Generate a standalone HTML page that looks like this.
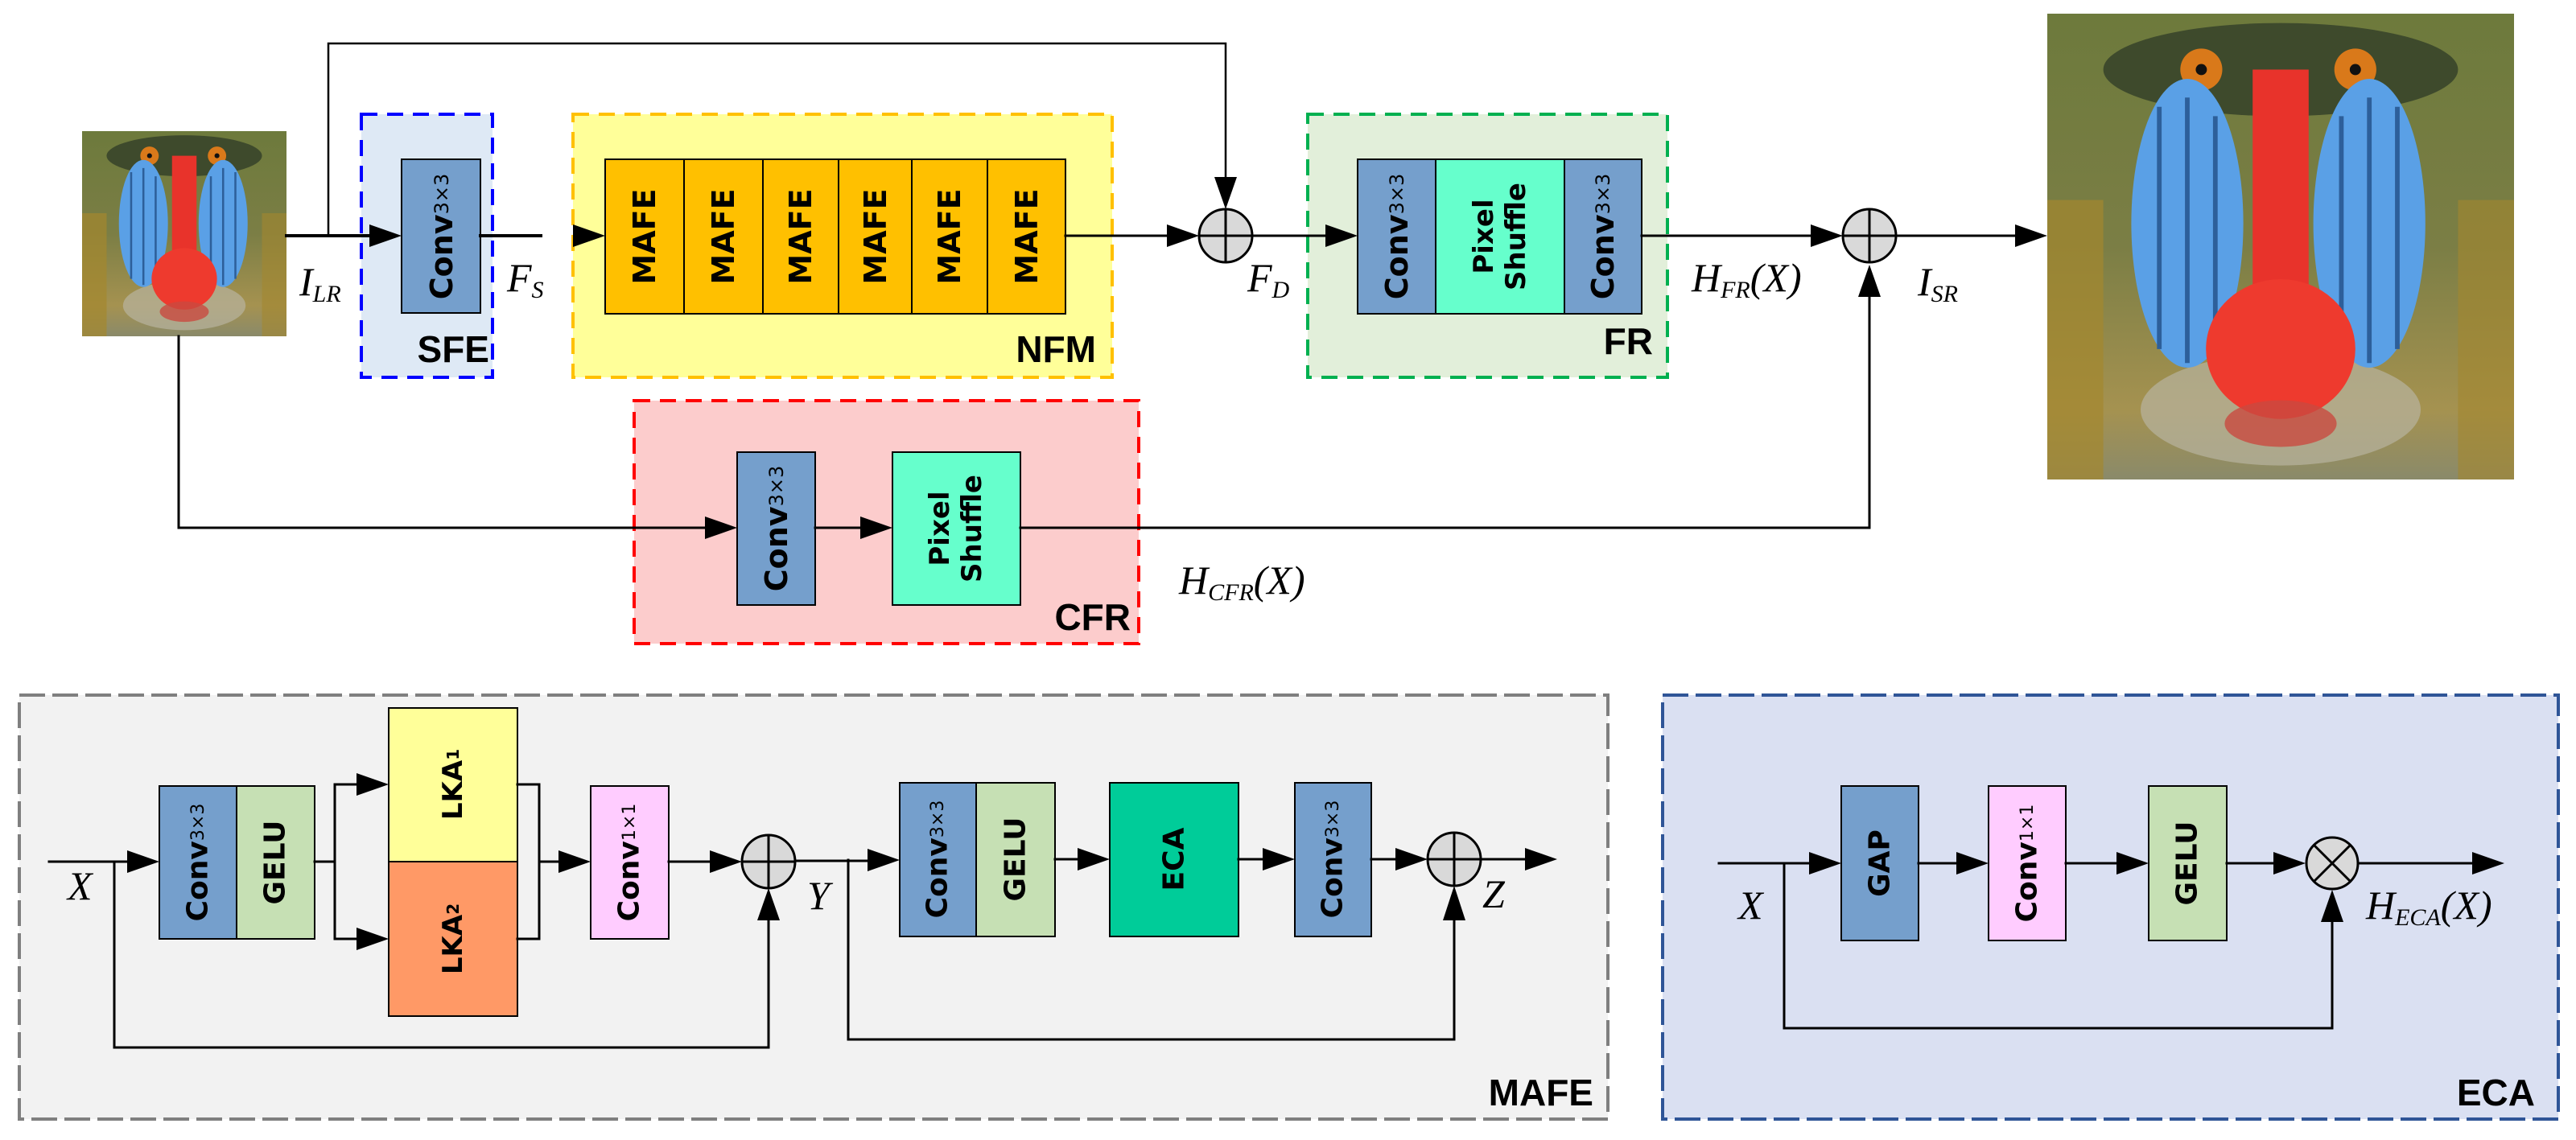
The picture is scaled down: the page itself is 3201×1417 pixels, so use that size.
<!DOCTYPE html>
<html><head><meta charset="utf-8"><style>
html,body{margin:0;padding:0;background:#fff;}
svg{display:block;}
.blk{font-family:"DejaVu Sans","Liberation Sans",sans-serif;font-weight:bold;}
.lbl{font-family:"Liberation Sans",sans-serif;font-weight:bold;font-size:46px;}
.m{font-family:"Liberation Serif",serif;font-style:italic;font-size:50px;}
.ms{font-size:30px;}
</style></head><body>
<svg width="3201" height="1417" viewBox="0 0 3201 1417" xmlns="http://www.w3.org/2000/svg">
<defs>
<linearGradient id="fur" x1="0" y1="0" x2="0" y2="1">
<stop offset="0" stop-color="#6d7a3c"/><stop offset="0.5" stop-color="#7b7e45"/><stop offset="0.85" stop-color="#a59250"/><stop offset="1" stop-color="#8a8a6a"/>
</linearGradient>
<g id="baboon">
<rect x="0" y="0" width="100" height="100" fill="url(#fur)"/>
<rect x="0" y="40" width="12" height="60" fill="#a4872e" opacity="0.7"/>
<rect x="88" y="40" width="12" height="60" fill="#a4872e" opacity="0.6"/>
<ellipse cx="50" cy="12" rx="38" ry="10" fill="#3e4a2c"/>
<circle cx="33" cy="12" r="4.5" fill="#d9791a"/><circle cx="33" cy="12" r="1.2" fill="#111"/>
<circle cx="66" cy="12" r="4.5" fill="#d9791a"/><circle cx="66" cy="12" r="1.2" fill="#111"/>
<ellipse cx="50" cy="85" rx="30" ry="12" fill="#b8b4a0" opacity="0.7"/>
<ellipse cx="30" cy="45" rx="12" ry="31" fill="#5aa0e6"/>
<ellipse cx="69" cy="45" rx="12" ry="31" fill="#5aa0e6"/>
<path d="M24 20 L24 72 M30 18 L30 75 M36 22 L36 72 M63 22 L63 72 M69 18 L69 75 M75 20 L75 72" stroke="#2d5f9a" stroke-width="1"/>
<rect x="44" y="12" width="12" height="55" fill="#e8332b"/>
<ellipse cx="50" cy="72" rx="16" ry="15" fill="#ee3a2e"/>
<ellipse cx="50" cy="88" rx="12" ry="5" fill="#c94a40" opacity="0.8"/>
</g>
</defs>

<svg x="102" y="163" width="254" height="255" viewBox="0 0 100 100" preserveAspectRatio="none"><use href="#baboon"/></svg>
<svg x="2544" y="17" width="580" height="579" viewBox="0 0 100 100" preserveAspectRatio="none"><use href="#baboon"/></svg>

<rect x="449" y="142" width="163" height="327" fill="#dee9f5" stroke="#0000ff" stroke-width="4" stroke-dasharray="20 12"/>
<rect x="712" y="142" width="670" height="327" fill="#ffff99" stroke="#ffc000" stroke-width="4" stroke-dasharray="20 12"/>
<rect x="1625" y="142" width="447" height="327" fill="#e2efda" stroke="#00b050" stroke-width="4" stroke-dasharray="20 12"/>
<rect x="788" y="498" width="627" height="302" fill="#fccccc" stroke="#ff0000" stroke-width="4" stroke-dasharray="20 12"/>
<rect x="24" y="864" width="1974" height="527" fill="#f2f2f2" stroke="#7f7f7f" stroke-width="4" stroke-dasharray="32 9"/>
<rect x="2066" y="864" width="1113" height="527" fill="#dae0f2" stroke="#2f5597" stroke-width="4" stroke-dasharray="32 9"/>

<text class="lbl" x="608" y="450" text-anchor="end">SFE</text>
<text class="lbl" x="1362" y="450" text-anchor="end">NFM</text>
<text class="lbl" x="2054" y="440" text-anchor="end">FR</text>
<text class="lbl" x="1405" y="783" text-anchor="end">CFR</text>
<text class="lbl" x="1980" y="1374" text-anchor="end">MAFE</text>
<text class="lbl" x="3150" y="1374" text-anchor="end">ECA</text>

<g stroke="#000" stroke-width="2">
<rect x="499" y="198" width="98" height="191" fill="#759fcc"/>
<rect x="752" y="198" width="572" height="192" fill="#ffc000"/>
<line x1="850" y1="198" x2="850" y2="390"/><line x1="948" y1="198" x2="948" y2="390"/>
<line x1="1042" y1="198" x2="1042" y2="390"/><line x1="1133" y1="198" x2="1133" y2="390"/>
<line x1="1227" y1="198" x2="1227" y2="390"/>
<rect x="1687" y="198" width="97" height="192" fill="#759fcc"/>
<rect x="1784" y="198" width="160" height="192" fill="#66ffcc"/>
<rect x="1944" y="198" width="96" height="192" fill="#759fcc"/>
<rect x="916" y="562" width="97" height="190" fill="#759fcc"/>
<rect x="1109" y="562" width="159" height="190" fill="#66ffcc"/>
<rect x="198" y="977" width="96" height="190" fill="#759fcc"/>
<rect x="294" y="977" width="97" height="190" fill="#c6e0b4"/>
<rect x="483" y="880" width="160" height="191" fill="#ffff99"/>
<rect x="483" y="1071" width="160" height="192" fill="#ff9966"/>
<rect x="734" y="977" width="97" height="190" fill="#ffccff"/>
<rect x="1118" y="973" width="95" height="191" fill="#759fcc"/>
<rect x="1213" y="973" width="98" height="191" fill="#c6e0b4"/>
<rect x="1379" y="973" width="160" height="191" fill="#00cc99"/>
<rect x="1609" y="973" width="95" height="191" fill="#759fcc"/>
<rect x="2288" y="977" width="96" height="192" fill="#759fcc"/>
<rect x="2471" y="977" width="96" height="192" fill="#ffccff"/>
<rect x="2670" y="977" width="97" height="192" fill="#c6e0b4"/>
</g>

<g class="blk" text-anchor="middle" dominant-baseline="central">
<text transform="translate(549,294) rotate(-90)" font-size="38">Conv<tspan font-size="24" font-weight="normal">3×3</tspan></text>
<text transform="translate(801,294) rotate(-90)" font-size="38">MAFE</text>
<text transform="translate(899,294) rotate(-90)" font-size="38">MAFE</text>
<text transform="translate(995,294) rotate(-90)" font-size="38">MAFE</text>
<text transform="translate(1088,294) rotate(-90)" font-size="38">MAFE</text>
<text transform="translate(1180,294) rotate(-90)" font-size="38">MAFE</text>
<text transform="translate(1276,294) rotate(-90)" font-size="38">MAFE</text>
<text transform="translate(1736,294) rotate(-90)" font-size="38">Conv<tspan font-size="24" font-weight="normal">3×3</tspan></text>
<text transform="translate(1864,294) rotate(-90)" font-size="34"><tspan x="0" y="-20">Pixel</tspan><tspan x="0" y="20">Shuffle</tspan></text>
<text transform="translate(1992,294) rotate(-90)" font-size="38">Conv<tspan font-size="24" font-weight="normal">3×3</tspan></text>
<text transform="translate(965,657) rotate(-90)" font-size="38">Conv<tspan font-size="24" font-weight="normal">3×3</tspan></text>
<text transform="translate(1188,657) rotate(-90)" font-size="34"><tspan x="0" y="-20">Pixel</tspan><tspan x="0" y="20">Shuffle</tspan></text>

<text transform="translate(246,1072) rotate(-90)" font-size="36">Conv<tspan font-size="22" font-weight="normal">3×3</tspan></text>
<text transform="translate(342,1072) rotate(-90)" font-size="36">GELU</text>
<text transform="translate(563,975) rotate(-90)" font-size="34">LKA<tspan font-size="20">1</tspan></text>
<text transform="translate(563,1167) rotate(-90)" font-size="34">LKA<tspan font-size="20">2</tspan></text>
<text transform="translate(782,1072) rotate(-90)" font-size="36">Conv<tspan font-size="22" font-weight="normal">1×1</tspan></text>
<text transform="translate(1165,1068) rotate(-90)" font-size="36">Conv<tspan font-size="22" font-weight="normal">3×3</tspan></text>
<text transform="translate(1262,1068) rotate(-90)" font-size="36">GELU</text>
<text transform="translate(1459,1068) rotate(-90)" font-size="36">ECA</text>
<text transform="translate(1656,1068) rotate(-90)" font-size="36">Conv<tspan font-size="22" font-weight="normal">3×3</tspan></text>
<text transform="translate(2336,1073) rotate(-90)" font-size="36">GAP</text>
<text transform="translate(2519,1073) rotate(-90)" font-size="36">Conv<tspan font-size="22" font-weight="normal">1×1</tspan></text>
<text transform="translate(2718,1073) rotate(-90)" font-size="36">GELU</text>
</g>

<g stroke="#000" fill="none" stroke-linecap="square">
<path d="M356 293 H460" stroke-width="4"/>
<path d="M408 293 V54 H1523 V222" stroke-width="2.5"/>
<path d="M597 293 H672" stroke-width="4"/>
<path d="M1324 293 H1452" stroke-width="3"/>
<path d="M1556 293 H1648" stroke-width="3"/>
<path d="M2040 293 H2252" stroke-width="3"/>
<path d="M2355 293 H2505" stroke-width="3"/>
<path d="M222 418 V656 H877" stroke-width="3"/>
<path d="M1013 656 H1070" stroke-width="3"/>
<path d="M1268 656 H2323 V370" stroke-width="3"/>
<path d="M61 1071 H160" stroke-width="3"/>
<path d="M142 1071 V1302 H955 V1145" stroke-width="3"/>
<path d="M391 1071 H416 M416 975 V1167 M416 975 H445 M416 1167 H445" stroke-width="3"/>
<path d="M643 975 H670 V1167 H643 M670 1071 H695" stroke-width="3"/>
<path d="M831 1071 H883" stroke-width="3"/>
<path d="M988 1070 H1080" stroke-width="3"/>
<path d="M1054 1069 V1292 H1807 V1145" stroke-width="3"/>
<path d="M1311 1068 H1340 M1539 1068 H1570 M1704 1068 H1735 M1840 1068 H1900" stroke-width="3"/>
<path d="M2136 1073 H2250" stroke-width="3"/>
<path d="M2217 1073 V1278 H2898 V1145" stroke-width="3"/>
<path d="M2384 1073 H2432 M2567 1073 H2632 M2767 1073 H2826 M2930 1073 H3075" stroke-width="3"/>
</g>

<g fill="#000">
<polygon points="459,279 499,293 459,307"/>
<polygon points="712,279 752,293 712,307"/>
<polygon points="1450,279 1490,293 1450,307"/>
<polygon points="1647,279 1687,293 1647,307"/>
<polygon points="2250,279 2290,293 2250,307"/>
<polygon points="2504,279 2544,293 2504,307"/>
<polygon points="1509,220 1523,260 1537,220"/>
<polygon points="2309,369 2323,329 2337,369"/>
<polygon points="876,642 916,656 876,670"/>
<polygon points="1069,642 1109,656 1069,670"/>
<polygon points="158,1057 198,1071 158,1085"/>
<polygon points="443,961 483,975 443,989"/>
<polygon points="443,1153 483,1167 443,1181"/>
<polygon points="694,1057 734,1071 694,1085"/>
<polygon points="882,1057 922,1071 882,1085"/>
<polygon points="941,1144 955,1104 969,1144"/>
<polygon points="1078,1055 1118,1069 1078,1083"/>
<polygon points="1339,1054 1379,1068 1339,1082"/>
<polygon points="1569,1054 1609,1068 1569,1082"/>
<polygon points="1734,1054 1774,1068 1734,1082"/>
<polygon points="1793,1144 1807,1101 1821,1144"/>
<polygon points="1895,1054 1935,1068 1895,1082"/>
<polygon points="2248,1059 2288,1073 2248,1087"/>
<polygon points="2431,1059 2471,1073 2431,1087"/>
<polygon points="2630,1059 2670,1073 2630,1087"/>
<polygon points="2825,1059 2865,1073 2825,1087"/>
<polygon points="2884,1146 2898,1106 2912,1146"/>
<polygon points="3072,1059 3112,1073 3072,1087"/>
</g>

<g stroke="#000" stroke-width="3" fill="#d9d9d9">
<circle cx="1523" cy="293" r="33"/><path d="M1490 293 H1556 M1523 260 V326"/>
<circle cx="2323" cy="293" r="33"/><path d="M2290 293 H2356 M2323 260 V326"/>
<circle cx="955" cy="1071" r="33"/><path d="M922 1071 H988 M955 1038 V1104"/>
<circle cx="1807" cy="1068" r="33"/><path d="M1774 1068 H1840 M1807 1035 V1101"/>
<circle cx="2898" cy="1073" r="32"/><path d="M2875 1050 L2921 1096 M2921 1050 L2875 1096"/>
</g>

<g class="m">
<text x="372" y="367">I<tspan class="ms" dy="8">LR</tspan></text>
<text x="630" y="362">F<tspan class="ms" dy="8">S</tspan></text>
<text x="1550" y="362">F<tspan class="ms" dy="8">D</tspan></text>
<text x="2102" y="362">H<tspan class="ms" dy="8">FR</tspan><tspan dy="-8">(X)</tspan></text>
<text x="2383" y="367">I<tspan class="ms" dy="8">SR</tspan></text>
<text x="1465" y="738">H<tspan class="ms" dy="8">CFR</tspan><tspan dy="-8">(X)</tspan></text>
<text x="84" y="1118">X</text>
<text x="1003" y="1130">Y</text>
<text x="1842" y="1128">Z</text>
<text x="2160" y="1142">X</text>
<text x="2940" y="1142">H<tspan class="ms" dy="8">ECA</tspan><tspan dy="-8">(X)</tspan></text>
</g>
</svg>
</body></html>
